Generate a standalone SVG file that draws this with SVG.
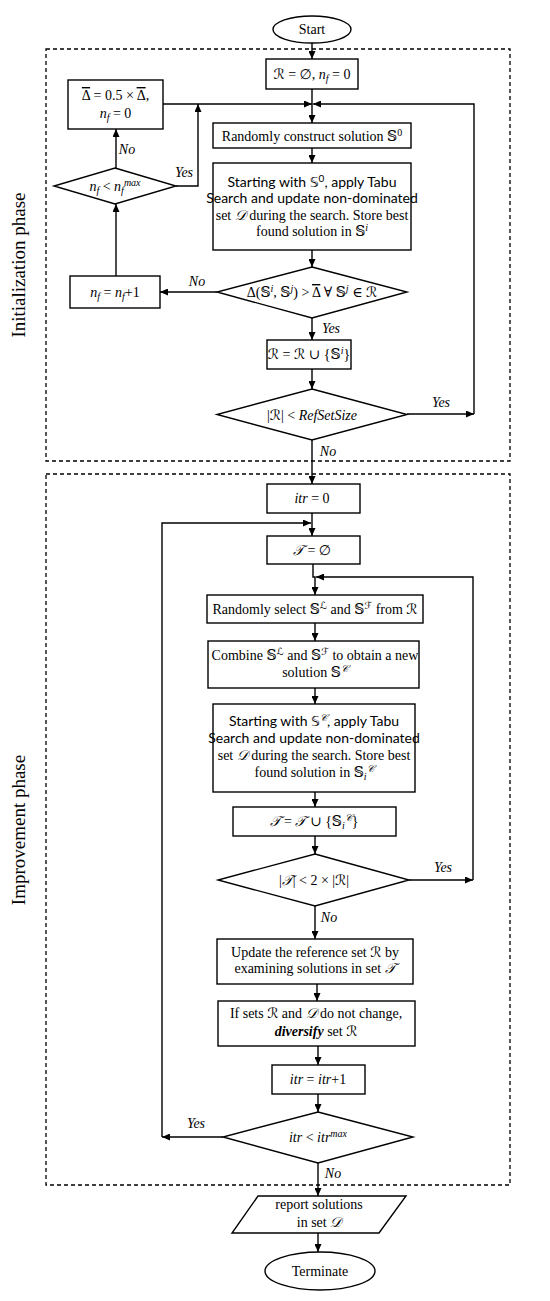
<svg xmlns="http://www.w3.org/2000/svg" width="550" height="1301" viewBox="0 0 550 1301">
<style>
.b{fill:#fff;stroke:#000;stroke-width:1.4}
.c{fill:none;stroke:#000;stroke-width:1.4}
.d{fill:none;stroke:#000;stroke-width:1.3;stroke-dasharray:4 3}
text{font-family:"Liberation Serif","DejaVu Serif","DejaVu Sans",serif;font-size:14px;text-anchor:middle;fill:#000}
.s{font-family:Lato,"Liberation Sans","DejaVu Sans",sans-serif;font-size:14px}
.i{font-style:italic}
.l{font-style:italic;font-size:14px}
.ph{font-size:19px}
.sup{font-size:10px}
.ov{text-decoration:overline}
</style>
<defs>
<marker id="ar" markerWidth="8" markerHeight="7" refX="8" refY="3.5" orient="auto" markerUnits="userSpaceOnUse">
<path d="M0,0 L8,3.5 L0,7 z" fill="#000"/>
</marker>
</defs>
<rect width="550" height="1301" fill="#fff"/>

<g id="phases">
<rect class="d" x="46" y="49" width="464" height="412"/>
<rect class="d" x="46" y="474" width="464" height="711"/>
<text class="ph" transform="translate(25,265) rotate(-90)">Initialization phase</text>
<text class="ph" transform="translate(25,830) rotate(-90)">Improvement phase</text>
</g>

<g id="connectors">
<line class="c" x1="312" y1="43" x2="312" y2="59" marker-end="url(#ar)"/>
<line class="c" x1="312" y1="89" x2="312" y2="123" marker-end="url(#ar)"/>
<line class="c" x1="163" y1="104" x2="312" y2="104" marker-end="url(#ar)"/>
<polyline class="c" points="407,414 474,414" marker-end="url(#ar)"/>
<polyline class="c" points="474,414 474,104 313,104" marker-end="url(#ar)"/>
<line class="c" x1="312" y1="148" x2="312" y2="163" marker-end="url(#ar)"/>
<line class="c" x1="312" y1="250" x2="312" y2="267" marker-end="url(#ar)"/>
<line class="c" x1="217" y1="292" x2="160" y2="292" marker-end="url(#ar)"/>
<line class="c" x1="116" y1="276" x2="116" y2="204" marker-end="url(#ar)"/>
<line class="c" x1="116" y1="168" x2="116" y2="129" marker-end="url(#ar)"/>
<polyline class="c" points="176,186 198,186 198,104" marker-end="url(#ar)"/>
<line class="c" x1="312" y1="318" x2="312" y2="340" marker-end="url(#ar)"/>
<line class="c" x1="312" y1="369" x2="312" y2="389" marker-end="url(#ar)"/>
<line class="c" x1="312" y1="440" x2="312" y2="484" marker-end="url(#ar)"/>
<line class="c" x1="312" y1="513" x2="312" y2="536" marker-end="url(#ar)"/>
<line class="c" x1="223" y1="1137" x2="162" y2="1137" marker-end="url(#ar)"/>
<polyline class="c" points="162,1137 162,523 311,523" marker-end="url(#ar)"/>
<polyline class="c" points="313,564 313,577 315,577 315,595" marker-end="url(#ar)"/>
<line class="c" x1="315" y1="623" x2="315" y2="641" marker-end="url(#ar)"/>
<line class="c" x1="315" y1="688" x2="315" y2="704" marker-end="url(#ar)"/>
<line class="c" x1="315" y1="792" x2="315" y2="807" marker-end="url(#ar)"/>
<line class="c" x1="315" y1="836" x2="315" y2="854" marker-end="url(#ar)"/>
<line class="c" x1="409" y1="880" x2="473" y2="880" marker-end="url(#ar)"/>
<polyline class="c" points="473,880 473,577 316,577" marker-end="url(#ar)"/>
<line class="c" x1="315" y1="906" x2="315" y2="939" marker-end="url(#ar)"/>
<line class="c" x1="317" y1="984" x2="317" y2="1001" marker-end="url(#ar)"/>
<line class="c" x1="318" y1="1046" x2="318" y2="1065" marker-end="url(#ar)"/>
<line class="c" x1="318" y1="1094" x2="318" y2="1112" marker-end="url(#ar)"/>
<line class="c" x1="318" y1="1163" x2="318" y2="1196" marker-end="url(#ar)"/>
<line class="c" x1="318" y1="1233" x2="318" y2="1252" marker-end="url(#ar)"/>
<text class="l" x="127" y="154">No</text>
<text class="l" x="184" y="177">Yes</text>
<text class="l" x="197" y="286">No</text>
<text class="l" x="331" y="333">Yes</text>
<text class="l" x="441" y="407">Yes</text>
<text class="l" x="328" y="456">No</text>
<text class="l" x="443" y="872">Yes</text>
<text class="l" x="329" y="922">No</text>
<text class="l" x="196" y="1128">Yes</text>
<text class="l" x="333" y="1178">No</text>
</g>

<g id="start">
<ellipse class="b" cx="312" cy="29.5" rx="39" ry="13.5"/>
<text x="312" y="34">Start</text>
</g>

<g id="init">
<rect class="b" x="266" y="59" width="92" height="30"/>
<text x="312" y="79">ℛ = ∅, <tspan class="i">n</tspan><tspan class="i sup" baseline-shift="-3">f</tspan> = 0</text>
</g>

<g id="reduce">
<rect class="b" x="68" y="80" width="95" height="49"/>
<text x="115.5" y="100"><tspan class="ov">Δ</tspan> = 0.5 × <tspan class="ov">Δ</tspan>,</text>
<text x="115.5" y="118"><tspan class="i">n</tspan><tspan class="i sup" baseline-shift="-3">f</tspan> = 0</text>
</g>

<g id="construct">
<rect class="b" x="213" y="123" width="198" height="25"/>
<text x="312" y="140.5">Randomly construct solution 𝕊<tspan class="sup" baseline-shift="5">0</tspan></text>
</g>

<g id="tabu1">
<rect class="b" x="213" y="163" width="198" height="87"/>
<text class="s" x="312" y="186.5">Starting with 𝕊<tspan class="sup" baseline-shift="5">0</tspan>, apply Tabu</text>
<text class="s" x="312" y="203">Search and update non-dominated</text>
<text x="312" y="219.5">set <tspan class="i">𝒟</tspan> during the search. Store best</text>
<text x="312" y="236">found solution in 𝕊<tspan class="i sup" baseline-shift="5">i</tspan></text>
</g>

<g id="nfcheck">
<polygon class="b" points="115,168 176,186 115,204 54,186"/>
<text x="115" y="191"><tspan class="i">n</tspan><tspan class="i sup" baseline-shift="-3">f</tspan> &lt; <tspan class="i">n</tspan><tspan class="i sup" baseline-shift="-3">f</tspan><tspan class="i sup" baseline-shift="5">max</tspan></text>
</g>

<g id="nfinc">
<rect class="b" x="70" y="276" width="90" height="32"/>
<text x="115" y="297"><tspan class="i">n</tspan><tspan class="i sup" baseline-shift="-3">f</tspan> = <tspan class="i">n</tspan><tspan class="i sup" baseline-shift="-3">f</tspan>+1</text>
</g>

<g id="distcheck">
<polygon class="b" points="312,267 407,292 312,318 217,292"/>
<text x="312" y="297">Δ(𝕊<tspan class="i sup" baseline-shift="5">i</tspan>, 𝕊<tspan class="i sup" baseline-shift="5">j</tspan>) &gt; <tspan class="ov">Δ</tspan> ∀ 𝕊<tspan class="i sup" baseline-shift="5">j</tspan> ∈ ℛ</text>
</g>

<g id="addref">
<rect class="b" x="267" y="340" width="84" height="29"/>
<text x="309" y="359">ℛ = ℛ ∪ {𝕊<tspan class="i sup" baseline-shift="5">i</tspan>}</text>
</g>

<g id="sizecheck">
<polygon class="b" points="312,389 407,414.5 312,440 217,414.5"/>
<text x="312" y="419.5">|ℛ| &lt; <tspan class="i">RefSetSize</tspan></text>
</g>

<g id="itr0">
<rect class="b" x="267" y="484" width="93" height="29"/>
<text x="312" y="503"><tspan class="i">itr</tspan> = 0</text>
</g>

<g id="tempty">
<rect class="b" x="267" y="536" width="93" height="28"/>
<text x="312" y="554.5"><tspan class="i">𝒯</tspan> = ∅</text>
</g>

<g id="select">
<rect class="b" x="207" y="595" width="216" height="28"/>
<text x="315" y="614">Randomly select 𝕊<tspan class="sup" baseline-shift="5">ℒ</tspan> and 𝕊<tspan class="sup" baseline-shift="5">ℱ</tspan> from ℛ</text>
</g>

<g id="combine">
<rect class="b" x="208" y="641" width="211" height="47"/>
<text x="315" y="660">Combine 𝕊<tspan class="sup" baseline-shift="5">ℒ</tspan> and 𝕊<tspan class="sup" baseline-shift="5">ℱ</tspan> to obtain a new</text>
<text x="315" y="677">solution 𝕊<tspan class="i sup" baseline-shift="5">𝒞</tspan></text>
</g>

<g id="tabu2">
<rect class="b" x="213" y="704" width="202" height="88"/>
<text class="s" x="314" y="726">Starting with 𝕊<tspan class="i sup" baseline-shift="5">𝒞</tspan>, apply Tabu</text>
<text class="s" x="314" y="743">Search and update non-dominated</text>
<text x="314" y="760">set <tspan class="i">𝒟</tspan> during the search. Store best</text>
<text x="314" y="777">found solution in 𝕊<tspan class="i sup" baseline-shift="-3">i</tspan><tspan class="i sup" baseline-shift="5">𝒞</tspan></text>
</g>

<g id="addtemp">
<rect class="b" x="233" y="807" width="163" height="29"/>
<text x="314" y="826"><tspan class="i">𝒯</tspan> = <tspan class="i">𝒯</tspan> ∪ {𝕊<tspan class="i sup" baseline-shift="-3">i</tspan><tspan class="i sup" baseline-shift="5">𝒞</tspan>}</text>
</g>

<g id="tcheck">
<polygon class="b" points="315,854 409,880 315,906 218,880"/>
<text x="314" y="885">|<tspan class="i">𝒯</tspan>| &lt; 2 × |ℛ|</text>
</g>

<g id="update">
<rect class="b" x="217" y="939" width="196" height="45"/>
<text x="315" y="957">Update the reference set ℛ by</text>
<text x="315" y="973">examining solutions in set <tspan class="i">𝒯</tspan></text>
</g>

<g id="diversify">
<rect class="b" x="218" y="1001" width="197" height="45"/>
<text x="316" y="1018">If sets ℛ and <tspan class="i">𝒟</tspan> do not change,</text>
<text x="316" y="1036"><tspan font-weight="bold" font-style="italic">diversify</tspan> set ℛ</text>
</g>

<g id="itrinc">
<rect class="b" x="272" y="1065" width="93" height="29"/>
<text x="318" y="1084"><tspan class="i">itr</tspan> = <tspan class="i">itr</tspan>+1</text>
</g>

<g id="itrcheck">
<polygon class="b" points="318,1112 413,1137 318,1163 223,1137"/>
<text x="318" y="1142"><tspan class="i">itr</tspan> &lt; <tspan class="i">itr</tspan><tspan class="i sup" baseline-shift="5">max</tspan></text>
</g>

<g id="report">
<polygon class="b" points="258,1196 406,1196 379,1233 232,1233"/>
<text x="319" y="1209">report solutions</text>
<text x="319" y="1227">in set <tspan class="i">𝒟</tspan></text>
</g>

<g id="terminate">
<ellipse class="b" cx="320" cy="1271" rx="55" ry="19"/>
<text x="320" y="1276">Terminate</text>
</g>
</svg>
